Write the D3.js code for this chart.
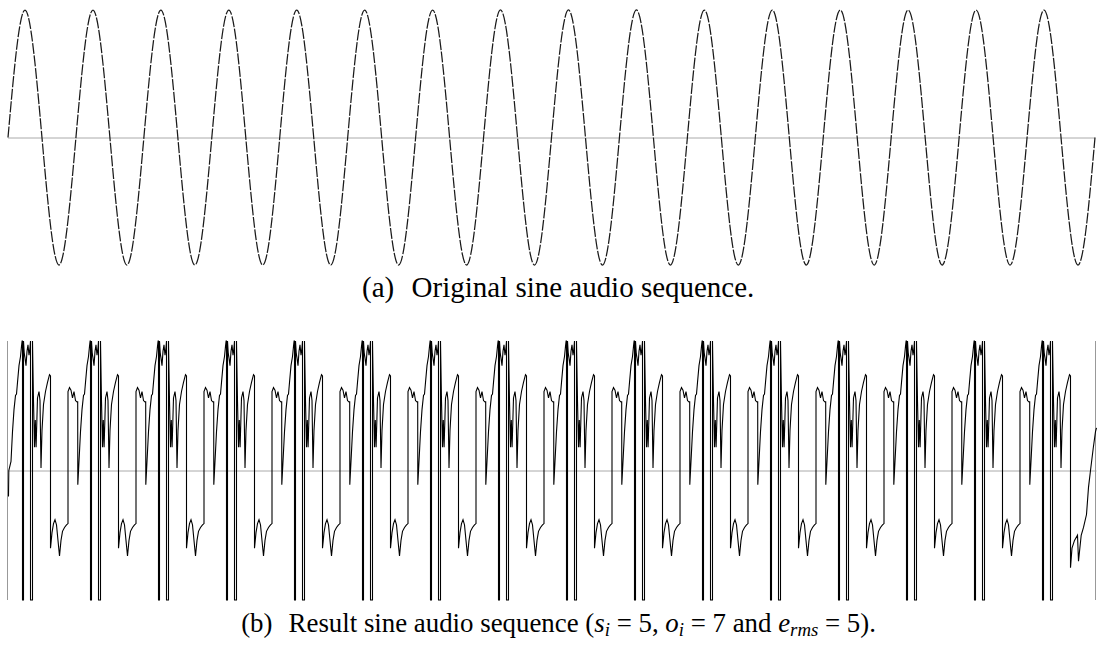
<!DOCTYPE html>
<html><head><meta charset="utf-8">
<script src="https://cdn.jsdelivr.net/npm/d3@7"></script>
<style>body{margin:0;background:#fff;} svg{display:block;}</style>
</head><body>
<svg id="chart" width="1099" height="648"></svg>
<script>
// ---------- DATA ----------
const samplesPerCycle = 68;
const totalSamples = 1088;
// original sine: values at every quarter cycle (17 samples)
const sineStep = 17;
const sineKeyValues = [0,1,0,-1, 0,1,0,-1, 0,1,0,-1, 0,1,0,-1,
                       0,1,0,-1, 0,1,0,-1, 0,1,0,-1, 0,1,0,-1,
                       0,1,0,-1, 0,1,0,-1, 0,1,0,-1, 0,1,0,-1,
                       0,1,0,-1, 0,1,0,-1, 0,1,0,-1, 0,1,0,-1, 0];
// result sequence: start sample of each cycle
const cycleStarts = [0,68,136,204,272,340,408,476,544,612,680,748,816,884,952,1020];
// one cycle of the result sequence (sample offset within cycle, amplitude)
const shapeOffsets = [1.3,2.5,4,5.5,7,8,9,10.5,12,13,
  13.6,14,14,15,15,15.8,16.5,17.5,18.5,19.5,
  20.5,21.5,22,22,24,24,25,26,26.8,27.6,
  29,30.5,31.5,32.5,33.5,35,37,39,41,42,
  42,43.5,45,46.5,48,49.5,51,52.5,54,56,
  58,59.5,59.5,61,62.5,64,65.5,67,68.5,69.2];
const shapeValues = [-0.11,0.07,0.30,0.47,0.58,0.59,0.68,0.81,0.88,0.96,
  1,1,-1,-1,1,0.90,0.87,0.81,0.92,0.97,
  0.89,0.95,1,-1,-1,1,0.54,0.18,0.39,0.18,
  0.56,0.61,0.54,0.02,0.31,0.51,0.61,0.68,0.74,0.73,
  -0.60,-0.48,-0.41,-0.38,-0.42,-0.54,-0.66,-0.54,-0.47,-0.44,
  -0.42,-0.41,0.61,0.64,0.62,0.56,0.61,0.54,0.53,0.53];
// beginning of the first cycle
const headOffsets = [0, 0.3];
const headValues = [-0.2, 0.0];
// end of the last (cut) cycle
const tailOffsets = [42,43.5,46,49,50,52.7,55,58,60,62,64.7,67,68];
const tailValues = [-0.75,-0.6,-0.54,-0.5,-0.7,-0.5,-0.44,-0.34,-0.13,0,0.17,0.3,0.33];
const captionA = ["(a)", "Original sine audio sequence."];
const captionB = ["(b)", "Result sine audio sequence ("];

// ---------- BUILD ----------
const sineData = sineKeyValues.map((v,i)=>({t:i*sineStep, v}));
const resultData = [];
cycleStarts.forEach((s,k)=>{
  if (k===0) headOffsets.forEach((o,i)=>resultData.push({t:s+o, v:headValues[i]}));
  const last = k===cycleStarts.length-1;
  shapeOffsets.forEach((o,i)=>{
    if (k===0 && o<2) return;
    if (last && (o>42 || (o===42 && shapeValues[i]<0))) return;
    resultData.push({t:s+o, v:shapeValues[i]});
  });
  if (last) tailOffsets.forEach((o,i)=>resultData.push({t:s+o, v:tailValues[i]}));
});

const svg = d3.select("#chart");

// ---------- TOP PANEL ----------
const xA = d3.scaleLinear().domain([0,totalSamples]).range([8,1095]);
const yA = d3.scaleLinear().domain([-1,1]).range([265,10]);
svg.append("line").attr("x1",xA(0)).attr("x2",xA(totalSamples))
  .attr("y1",yA(0)+0.5).attr("y2",yA(0)+0.5).attr("stroke","#aaa").attr("stroke-width",1);
svg.append("path").datum(sineData)
  .attr("d", d3.line().x(d=>xA(d.t)).y(d=>yA(d.v)).curve(d3.curveNatural))
  .attr("fill","none").attr("stroke","#1a1a1a").attr("stroke-width",1.25)
  .attr("stroke-dasharray","11,1.6");

// ---------- BOTTOM PANEL ----------
const xB = d3.scaleLinear().domain([0,totalSamples]).range([8.5,1096.5]);
const yB = d3.scaleLinear().domain([-1,1]).range([600,341]);
svg.append("line").attr("x1",xB(0)).attr("x2",xB(totalSamples))
  .attr("y1",yB(0)+0.5).attr("y2",yB(0)+0.5).attr("stroke","#aaa").attr("stroke-width",1);
[0,totalSamples].forEach(t=>{
  svg.append("line").attr("x1",xB(t)-1).attr("x2",xB(t)-1)
    .attr("y1",yB(1)).attr("y2",yB(-1)).attr("stroke","#999").attr("stroke-width",1);
});
svg.append("path").datum(resultData)
  .attr("d", d3.line().x(d=>xB(d.t)).y(d=>yB(d.v)))
  .attr("fill","none").attr("stroke","#000").attr("stroke-width",1.1)
  .attr("stroke-linejoin","miter");

// ---------- CAPTIONS ----------
const font = "'Liberation Serif', 'DejaVu Serif', serif";
function caption(y, left, right, build) {
  const t = svg.append("text").attr("x",0).attr("y",y)
    .attr("font-family",font).attr("font-size",20).attr("fill","#000");
  build(t);
  const w = t.node().getComputedTextLength();
  const fs = 20 * (right-left)/w;
  t.attr("font-size",fs);
  const w2 = t.node().getComputedTextLength();
  t.attr("x", left + ((right-left)-w2)/2);
}
caption(297, 362, 737, t=>{
  t.append("tspan").text(captionA[0]);
  t.append("tspan").attr("dx","0.6em").text(captionA[1]);
});
caption(632, 241, 860, t=>{
  t.append("tspan").text(captionB[0]);
  t.append("tspan").attr("dx","0.6em").text(captionB[1]);
  const mv = (v, sub, rest) => {
    t.append("tspan").attr("font-style","italic").text(v);
    t.append("tspan").attr("font-style","italic").attr("font-size","0.7em").attr("dy","0.22em").text(sub);
    t.append("tspan").attr("dy","-0.154em").text(rest);
  };
  mv("s","i"," = 5, ");
  mv("o","i"," = 7 and ");
  mv("e","rms"," = 5).");
});
</script>
</body></html>
